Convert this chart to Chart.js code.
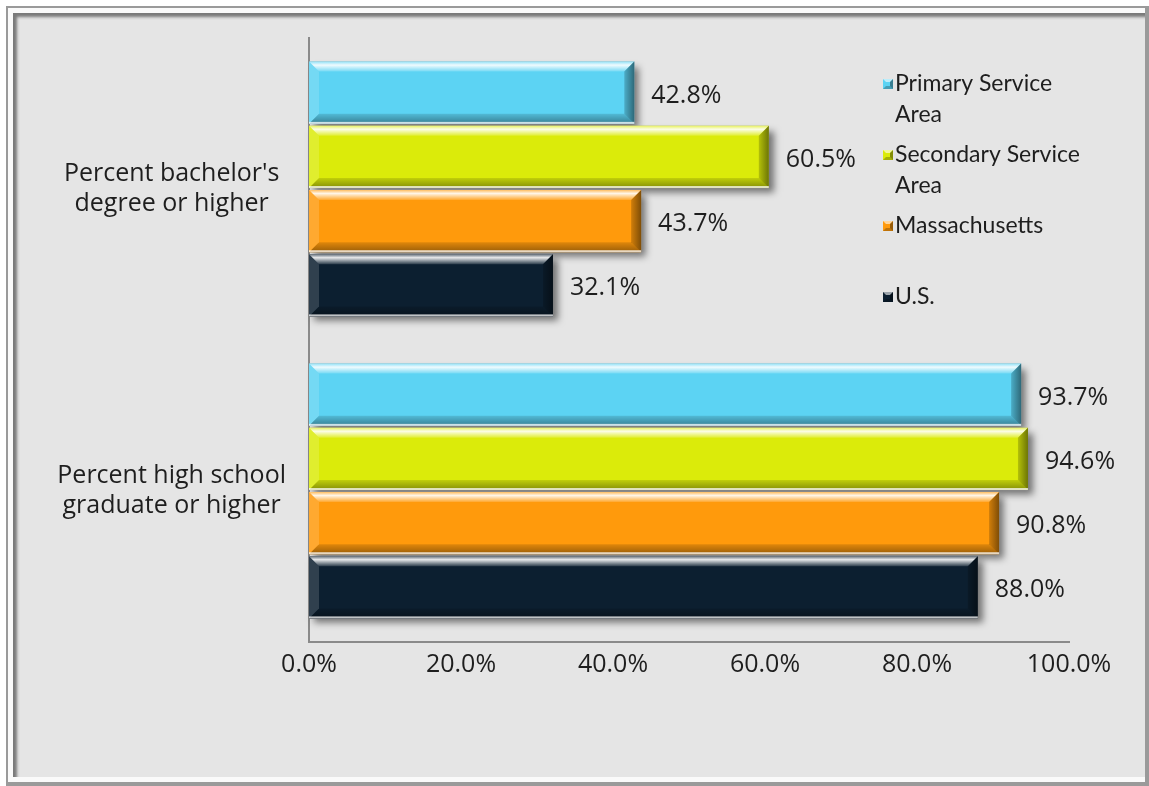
<!DOCTYPE html>
<html>
<head>
<meta charset="utf-8">
<script src="https://cdn.jsdelivr.net/npm/chart.js@4.4.0/dist/chart.umd.min.js"></script>
<style>
    html, body { margin: 0; padding: 0; background: #fff; width: 1149px; height: 786px; overflow: hidden; }
    .frameOuter { position: absolute; left: 6px; top: 6px; width: 1143px; height: 780px; background: #9a9a9a; }
    .frameLight { position: absolute; left: 8px; top: 8px; width: 1137px; height: 774px; background: #fafafa; }
    .frameInner { position: absolute; left: 13px; top: 13px; width: 1132px; height: 764px; background: #e5e5e5;
                  box-shadow: inset 5px 5px 3px -1px #7a7a7a; }
    #eduChart { position: absolute; left: 0; top: 0; }
</style>
</head>
<body>
<div class="frameOuter"></div>
<div class="frameLight"></div>
<div class="frameInner"></div>
<canvas id="eduChart" width="1149" height="786"></canvas>
<script>
// 数据
const categories = [["Percent bachelor's", "degree or higher"], ["Percent high school", "graduate or higher"]];
const seriesNames = ['Primary Service Area', 'Secondary Service Area', 'Massachusetts', 'U.S.'];
const primaryArea = [42.8, 93.7];
const secondaryArea = [60.5, 94.6];
const massachusetts = [43.7, 90.8];
const unitedStates = [32.1, 88.0];
const xTicks = [0, 20, 40, 60, 80, 100];

const seriesColors = ['#5cd3f3', '#dbeb0a', '#ff9a0c', '#0c1f30'];
const textColor = '#1e1e1e';
const axisFont = { family: '"Open Sans", "Noto Sans", sans-serif', size: 25 };

// 取柱子的矩形
function barRect(bar) {
    const p = bar.getProps(['x', 'y', 'base', 'height'], true);
    return { x0: p.base, x1: p.x, y0: p.y - p.height / 2, y1: p.y + p.height / 2, cy: p.y };
}

function poly(ctx, pts, fill) {
    ctx.beginPath();
    ctx.moveTo(pts[0][0], pts[0][1]);
    for (let i = 1; i < pts.length; i++) ctx.lineTo(pts[i][0], pts[i][1]);
    ctx.closePath();
    ctx.fillStyle = fill;
    ctx.fill();
}

// 斜面效果
function drawBevel(ctx, r, b) {
    const { x0, x1, y0, y1 } = r;
    let g = ctx.createLinearGradient(0, y0, 0, y0 + b);
    g.addColorStop(0, 'rgba(255,255,255,0.35)');
    g.addColorStop(0.35, 'rgba(255,255,255,0.9)');
    g.addColorStop(1, 'rgba(255,255,255,0.15)');
    poly(ctx, [[x0, y0], [x1, y0], [x1 - b, y0 + b], [x0 + b, y0 + b]], g);

    poly(ctx, [[x0, y0], [x0 + b, y0 + b], [x0 + b, y1 - b], [x0, y1]], 'rgba(255,255,255,0.15)');

    g = ctx.createLinearGradient(0, y1 - b, 0, y1);
    g.addColorStop(0, 'rgba(0,0,0,0.12)');
    g.addColorStop(1, 'rgba(0,0,0,0.4)');
    poly(ctx, [[x0, y1], [x1, y1], [x1 - b, y1 - b], [x0 + b, y1 - b]], g);

    g = ctx.createLinearGradient(x1 - b, 0, x1, 0);
    g.addColorStop(0, 'rgba(0,0,0,0.18)');
    g.addColorStop(1, 'rgba(0,0,0,0.5)');
    poly(ctx, [[x1, y0], [x1, y1], [x1 - b, y1 - b], [x1 - b, y0 + b]], g);

    ctx.fillStyle = 'rgba(255,255,255,0.75)';
    ctx.fillRect(x0, y1 - 2, x1 - x0, 2);
}

const bevelPlugin = {
    id: 'bevelBars',
    beforeDatasetsDraw(chart) {
        const ctx = chart.ctx;
        ctx.save();
        ctx.shadowColor = 'rgba(0,0,0,0.5)';
        ctx.shadowBlur = 7;
        ctx.shadowOffsetX = 5;
        ctx.shadowOffsetY = 5;
        chart.getSortedVisibleDatasetMetas().forEach(meta => {
            meta.data.forEach(bar => {
                const r = barRect(bar);
                ctx.fillStyle = '#999';
                ctx.fillRect(r.x0, r.y0, r.x1 - r.x0, r.y1 - r.y0);
            });
        });
        ctx.restore();
    },
    afterDatasetsDraw(chart) {
        const ctx = chart.ctx;
        ctx.save();
        chart.getSortedVisibleDatasetMetas().forEach(meta => {
            const values = chart.data.datasets[meta.index].data;
            meta.data.forEach((bar, i) => {
                const r = barRect(bar);
                drawBevel(ctx, r, 10);
                // 数值标签
                ctx.font = `${axisFont.size}px ${axisFont.family}`;
                ctx.fillStyle = textColor;
                ctx.textAlign = 'left';
                ctx.textBaseline = 'middle';
                ctx.fillText(values[i].toFixed(1) + '%', r.x1 + 17, r.cy + 3);
            });
        });
        ctx.restore();
    }
};

// 图例(自绘, 支持换行)
function wrapText(ctx, text, maxWidth) {
    const words = text.split(' ');
    const lines = [];
    let line = '';
    words.forEach(w => {
        const test = line ? line + ' ' + w : w;
        if (line && ctx.measureText(test).width > maxWidth) {
            lines.push(line);
            line = w;
        } else {
            line = test;
        }
    });
    if (line) lines.push(line);
    return lines;
}

const legendPlugin = {
    id: 'sideLegend',
    afterDraw(chart) {
        const ctx = chart.ctx;
        const textX = 895;
        const markX = 883;
        const startY = 84;
        const step = 71;
        const lineH = 31;
        ctx.save();
        ctx.font = '23px Lato, "Open Sans", sans-serif';
        ctx.textAlign = 'left';
        ctx.textBaseline = 'middle';
        chart.data.datasets.forEach((ds, i) => {
            const y = startY + i * step;
            // 小方块
            const s = 10;
            const t = y - s / 2;
            ctx.fillStyle = ds.backgroundColor;
            ctx.fillRect(markX, t, s, s);
            poly(ctx, [[markX, t], [markX + s, t], [markX + s - 3, t + 3], [markX + 3, t + 3]], 'rgba(255,255,255,0.6)');
            poly(ctx, [[markX + s, t], [markX + s, t + s], [markX + s - 3, t + s - 3], [markX + s - 3, t + 3]], 'rgba(0,0,0,0.4)');
            poly(ctx, [[markX, t + s], [markX + s, t + s], [markX + s - 3, t + s - 3], [markX + 3, t + s - 3]], 'rgba(0,0,0,0.25)');
            ctx.fillStyle = textColor;
            wrapText(ctx, ds.label, 200).forEach((ln, k) => {
                ctx.fillText(ln, textX, y + k * lineH);
            });
        });
        ctx.restore();
    }
};

const seriesData = [primaryArea, secondaryArea, massachusetts, unitedStates];

new Chart(document.getElementById('eduChart').getContext('2d'), {
    type: 'bar',
    data: {
        labels: categories,
        datasets: seriesNames.map((name, i) => ({
            label: name,
            data: seriesData[i],
            backgroundColor: seriesColors[i],
            borderWidth: 0,
            categoryPercentage: 0.85,
            barPercentage: 0.97
        }))
    },
    options: {
        indexAxis: 'y',
        responsive: false,
        animation: false,
        layout: { padding: { top: 38, right: 80, bottom: 104, left: 0 } },
        plugins: {
            legend: { display: false },
            tooltip: { enabled: false }
        },
        scales: {
            x: {
                min: 0,
                max: 100,
                afterBuildTicks: axis => { axis.ticks = xTicks.map(v => ({ value: v })); },
                afterFit: axis => { axis.height = 40; axis.paddingLeft = 0; axis.paddingRight = 0; },
                grid: { display: false, drawTicks: false },
                border: { display: true, color: '#8a8a8a', width: 2 },
                ticks: {
                    padding: 8,
                    color: textColor,
                    font: axisFont,
                    maxRotation: 0,
                    callback: v => v.toFixed(1) + '%'
                }
            },
            y: {
                afterFit: axis => { axis.width = 309; axis.paddingTop = 0; axis.paddingBottom = 0; },
                grid: { display: false, drawTicks: false },
                border: { display: true, color: '#8a8a8a', width: 2 },
                ticks: {
                    crossAlign: 'center',
                    padding: 23,
                    color: textColor,
                    font: { ...axisFont, lineHeight: 1.2 }
                }
            }
        }
    },
    plugins: [bevelPlugin, legendPlugin]
});
</script>
</body>
</html>
